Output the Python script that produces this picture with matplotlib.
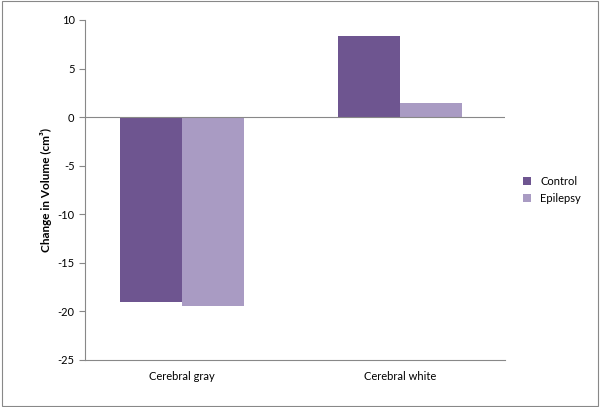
import matplotlib
matplotlib.use("Agg")
import matplotlib.pyplot as plt
import numpy as np

categories = ["Cerebral gray", "Cerebral white"]
control = [-19.0, 8.4]
epilepsy = [-19.4, 1.5]
series_names = ["Control", "Epilepsy"]
yticks = [10, 5, 0, -5, -10, -15, -20, -25]

plt.rcParams["font.family"] = "Lato"
fig = plt.figure(figsize=(6, 4.07), dpi=100)
ax = fig.add_axes([85/600, 1-360/407, 420/600, 340/407])
x = np.arange(len(categories))
w = 0.284
ax.bar(x - w/2, control, w, color="#6E5590", label=series_names[0])
ax.bar(x + w/2, epilepsy, w, color="#A99BC3", label=series_names[1])
ax.set_xlim(-0.445, 1.48)
ax.set_ylim(-25, 10)
ax.set_yticks(yticks)
ax.set_yticklabels([str(t) for t in yticks], fontsize=8)
ax.set_xticks(x)
ax.set_xticklabels(categories, fontsize=8)
ax.tick_params(axis="x", length=0, pad=8)
ax.tick_params(axis="y", length=4, color="#888888", direction="out")
ax.axhline(0, color="#888888", lw=0.8)
for s in ["top", "right"]:
    ax.spines[s].set_visible(False)
for s in ["left", "bottom"]:
    ax.spines[s].set_color("#888888")
    ax.spines[s].set_linewidth(0.8)
ax.set_ylabel("Change in Volume (cm³)", fontsize=8.5, fontweight="bold")
ax.legend(loc="center left", bbox_to_anchor=(1.02, 0.5), frameon=False, fontsize=8,
          handlelength=0.7, handleheight=0.7)
fig.patches.append(plt.Rectangle((0.003, 0.003), 0.994, 0.994, transform=fig.transFigure,
                                 fill=False, edgecolor="#888888", lw=0.8))
fig.savefig("out.png", dpi=100)
